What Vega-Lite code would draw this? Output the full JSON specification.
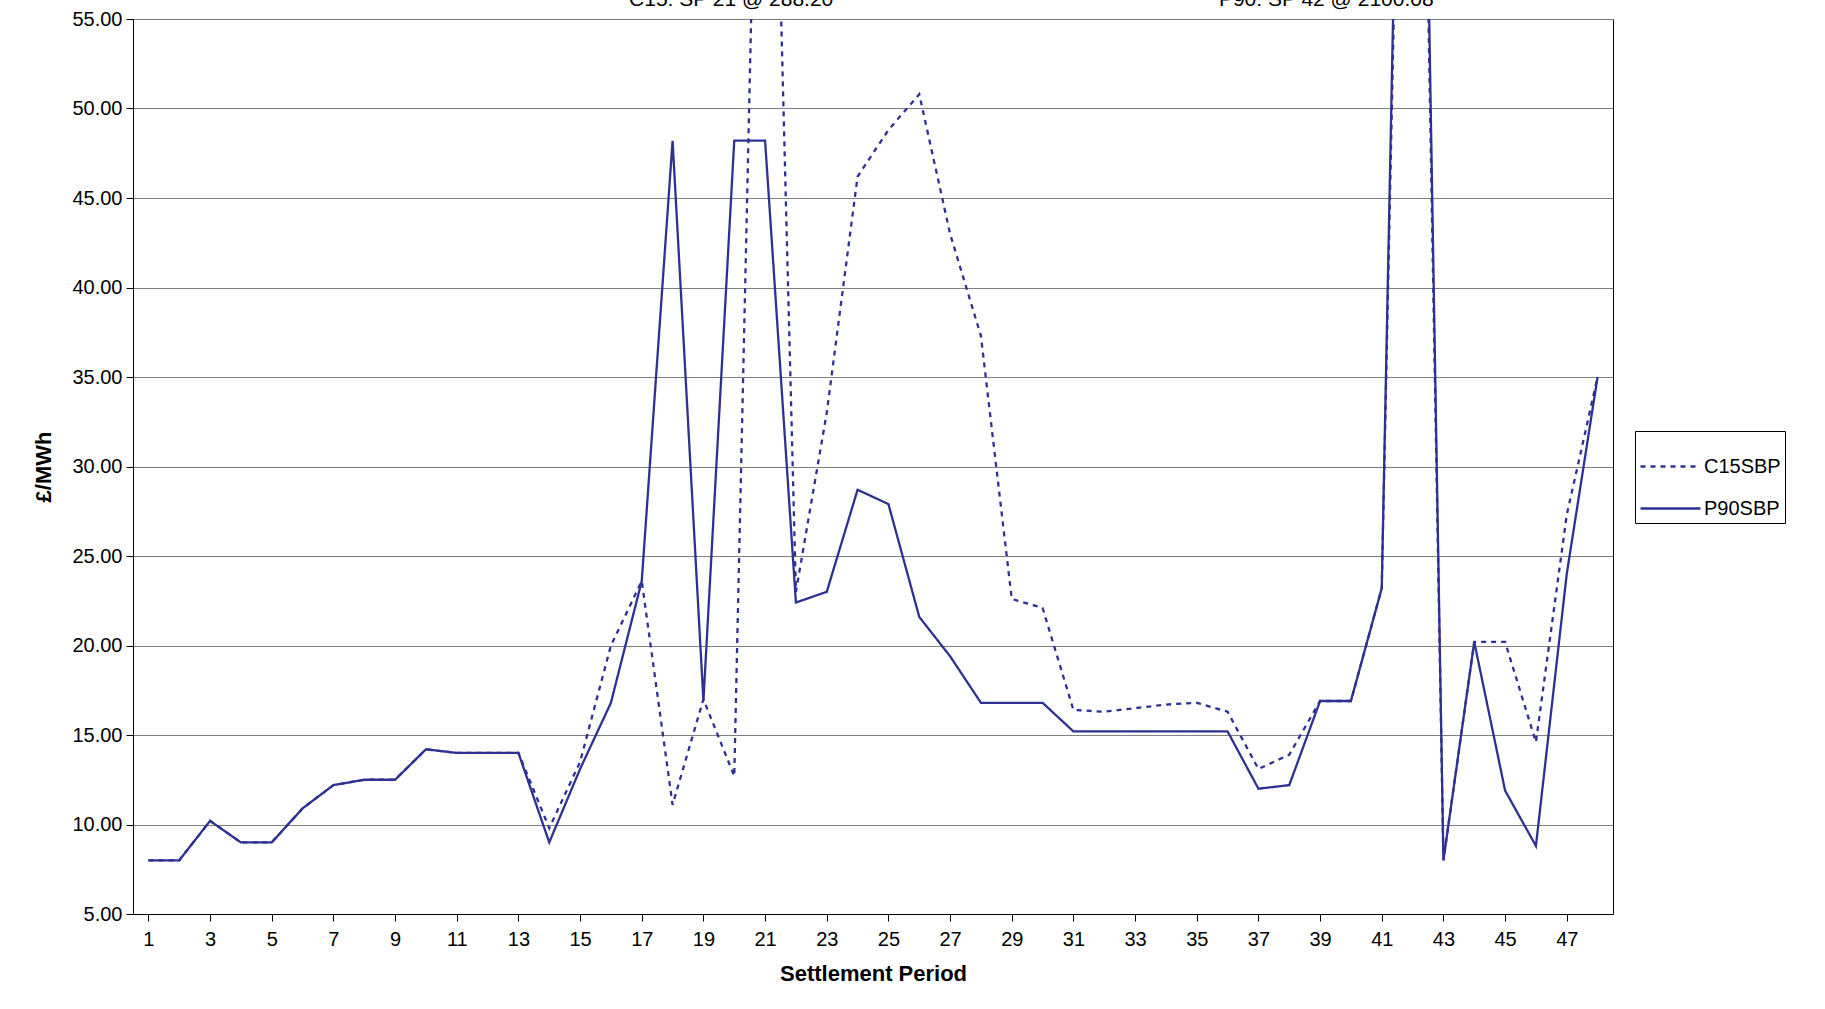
{
"$schema":"https://vega.github.io/schema/vega-lite/v6.json",
"width":1480,"height":895,
"autosize":{"type":"none"},
"padding":{"left":133,"top":19,"right":212,"bottom":95},
"background":"white",
"config":{"font":"Liberation Sans","view":{"stroke":"#000","strokeWidth":1},
"axis":{"labelFont":"Liberation Sans","titleFont":"Liberation Sans","labelFontSize":20,"titleFontSize":22,"labelColor":"#000","titleColor":"#000","domainColor":"#000","tickColor":"#000","titleFontWeight":"bold"}},
"datasets":{
"d":[
{"sp":1,"s":"C15SBP","v":8.0},{"sp":2,"s":"C15SBP","v":8.0},{"sp":3,"s":"C15SBP","v":10.2},{"sp":4,"s":"C15SBP","v":9.0},{"sp":5,"s":"C15SBP","v":9.0},{"sp":6,"s":"C15SBP","v":10.9},{"sp":7,"s":"C15SBP","v":12.2},{"sp":8,"s":"C15SBP","v":12.5},{"sp":9,"s":"C15SBP","v":12.5},{"sp":10,"s":"C15SBP","v":14.2},{"sp":11,"s":"C15SBP","v":14.0},{"sp":12,"s":"C15SBP","v":14.0},{"sp":13,"s":"C15SBP","v":14.0},{"sp":14,"s":"C15SBP","v":9.8},{"sp":15,"s":"C15SBP","v":13.5},{"sp":16,"s":"C15SBP","v":20.0},{"sp":17,"s":"C15SBP","v":23.6},{"sp":18,"s":"C15SBP","v":11.1},{"sp":19,"s":"C15SBP","v":17.0},{"sp":20,"s":"C15SBP","v":12.7},{"sp":21,"s":"C15SBP","v":90},{"sp":22,"s":"C15SBP","v":23.0},{"sp":23,"s":"C15SBP","v":33.0},{"sp":24,"s":"C15SBP","v":46.2},{"sp":25,"s":"C15SBP","v":48.8},{"sp":26,"s":"C15SBP","v":50.8},{"sp":27,"s":"C15SBP","v":43.0},{"sp":28,"s":"C15SBP","v":37.3},{"sp":29,"s":"C15SBP","v":22.6},{"sp":30,"s":"C15SBP","v":22.1},{"sp":31,"s":"C15SBP","v":16.4},{"sp":32,"s":"C15SBP","v":16.3},{"sp":33,"s":"C15SBP","v":16.5},{"sp":34,"s":"C15SBP","v":16.7},{"sp":35,"s":"C15SBP","v":16.8},{"sp":36,"s":"C15SBP","v":16.3},{"sp":37,"s":"C15SBP","v":13.1},{"sp":38,"s":"C15SBP","v":13.9},{"sp":39,"s":"C15SBP","v":16.9},{"sp":40,"s":"C15SBP","v":16.9},{"sp":41,"s":"C15SBP","v":23.2},{"sp":42,"s":"C15SBP","v":105},{"sp":43,"s":"C15SBP","v":8.0},{"sp":44,"s":"C15SBP","v":20.2},{"sp":45,"s":"C15SBP","v":20.2},{"sp":46,"s":"C15SBP","v":14.6},{"sp":47,"s":"C15SBP","v":27.3},{"sp":48,"s":"C15SBP","v":35.0},
{"sp":1,"s":"P90SBP","v":8.0},{"sp":2,"s":"P90SBP","v":8.0},{"sp":3,"s":"P90SBP","v":10.2},{"sp":4,"s":"P90SBP","v":9.0},{"sp":5,"s":"P90SBP","v":9.0},{"sp":6,"s":"P90SBP","v":10.9},{"sp":7,"s":"P90SBP","v":12.2},{"sp":8,"s":"P90SBP","v":12.5},{"sp":9,"s":"P90SBP","v":12.5},{"sp":10,"s":"P90SBP","v":14.2},{"sp":11,"s":"P90SBP","v":14.0},{"sp":12,"s":"P90SBP","v":14.0},{"sp":13,"s":"P90SBP","v":14.0},{"sp":14,"s":"P90SBP","v":9.0},{"sp":15,"s":"P90SBP","v":13.1},{"sp":16,"s":"P90SBP","v":16.8},{"sp":17,"s":"P90SBP","v":23.6},{"sp":18,"s":"P90SBP","v":48.2},{"sp":19,"s":"P90SBP","v":16.9},{"sp":20,"s":"P90SBP","v":48.2},{"sp":21,"s":"P90SBP","v":48.2},{"sp":22,"s":"P90SBP","v":22.4},{"sp":23,"s":"P90SBP","v":23.0},{"sp":24,"s":"P90SBP","v":28.7},{"sp":25,"s":"P90SBP","v":27.9},{"sp":26,"s":"P90SBP","v":21.6},{"sp":27,"s":"P90SBP","v":19.4},{"sp":28,"s":"P90SBP","v":16.8},{"sp":29,"s":"P90SBP","v":16.8},{"sp":30,"s":"P90SBP","v":16.8},{"sp":31,"s":"P90SBP","v":15.2},{"sp":32,"s":"P90SBP","v":15.2},{"sp":33,"s":"P90SBP","v":15.2},{"sp":34,"s":"P90SBP","v":15.2},{"sp":35,"s":"P90SBP","v":15.2},{"sp":36,"s":"P90SBP","v":15.2},{"sp":37,"s":"P90SBP","v":12.0},{"sp":38,"s":"P90SBP","v":12.2},{"sp":39,"s":"P90SBP","v":16.9},{"sp":40,"s":"P90SBP","v":16.9},{"sp":41,"s":"P90SBP","v":23.2},{"sp":42,"s":"P90SBP","v":110},{"sp":43,"s":"P90SBP","v":8.0},{"sp":44,"s":"P90SBP","v":20.2},{"sp":45,"s":"P90SBP","v":11.9},{"sp":46,"s":"P90SBP","v":8.8},{"sp":47,"s":"P90SBP","v":24.0},{"sp":48,"s":"P90SBP","v":35.0}
],
"notes":[{"x":19.9,"y":55,"t":"C15: SP 21 @ 288.20"},{"x":39.2,"y":55,"t":"P90: SP 42 @ 2100.08"}]
},
"layer":[
{"data":{"name":"d"},"mark":{"type":"line","clip":true,"strokeWidth":2.3,"color":"#2E3192"},
"encoding":{
"x":{"field":"sp","type":"quantitative","scale":{"domain":[0.5,48.5],"nice":false,"zero":false},
"axis":{"title":"Settlement Period","values":[1,3,5,7,9,11,13,15,17,19,21,23,25,27,29,31,33,35,37,39,41,43,45,47],"grid":false,"labelPadding":8,"titlePadding":14,"tickSize":7}},
"y":{"field":"v","type":"quantitative","scale":{"domain":[5,55],"nice":false,"zero":false},
"axis":{"title":"£/MWh","values":[5,10,15,20,25,30,35,40,45,50,55],"format":".2f","gridColor":"#808080","gridOpacity":1,"tickSize":7,"labelPadding":4,"titlePadding":16}},
"strokeDash":{"field":"s","type":"nominal","scale":{"domain":["C15SBP","P90SBP"],"range":[[5,5],[1,0]]},
"legend":{"title":null,"orient":"none","legendX":1502,"legendY":412,"labelFontSize":20,"labelColor":"#000","symbolType":"stroke","symbolSize":3600,"symbolStrokeWidth":2.3,"symbolStrokeColor":"#2E3192","strokeColor":"#000","padding":4,"rowPadding":0,"labelOffset":2}}
}},
{"data":{"name":"notes"},"mark":{"type":"text","fontSize":21,"baseline":"middle","dy":-19,"clip":false,"color":"#000"},
"encoding":{"x":{"field":"x","type":"quantitative"},"y":{"field":"y","type":"quantitative"},"text":{"field":"t"}}}
]
}
